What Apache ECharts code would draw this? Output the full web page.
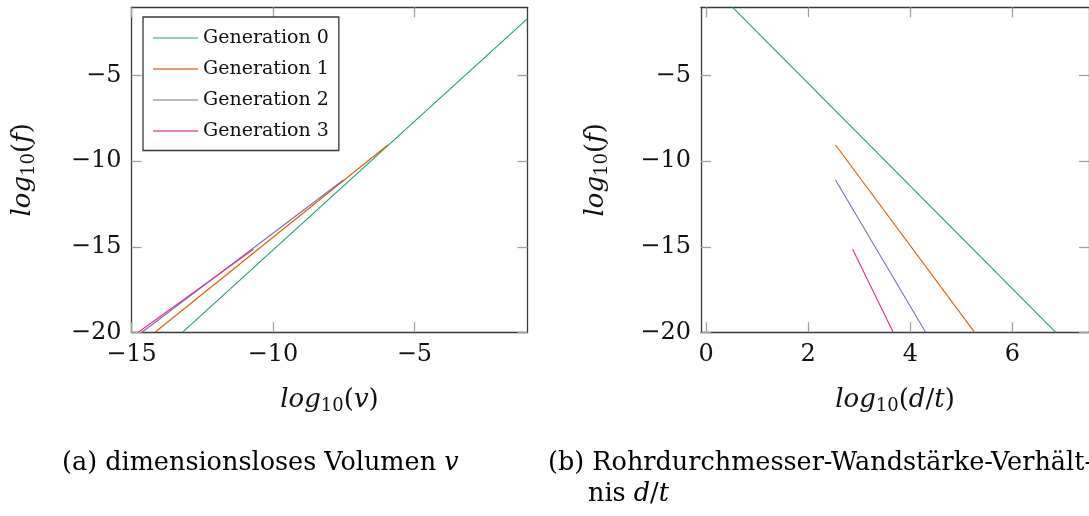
<!DOCTYPE html>
<html>
<head>
<meta charset="utf-8">
<script src="https://cdn.jsdelivr.net/npm/echarts@6/dist/echarts.min.js"></script>
<style>
  html, body { margin: 0; padding: 0; background: #fff; }
  #chart { width: 1089px; height: 516px; }
</style>
</head>
<body>
<div id="chart"></div>
<script>
// Series names and Dark2 colours
const genNames = ['Generation 0', 'Generation 1', 'Generation 2', 'Generation 3'];
const genColors = ['#1b9e77', '#d95f02', '#7570b3', '#e7298a'];

// (a) log10(f) over log10(v): start/end of each generation line
const volX = [[-13.2, -1.0], [-14.17, -5.94], [-14.63, -7.51], [-14.76, -10.69]];
const volF = [[-20, -1.66], [-20, -9.05], [-20, -11.1], [-20, -15.15]];

// (b) log10(f) over log10(d/t)
const dtX = [[0.52, 6.85], [2.535, 5.26], [2.535, 4.30], [2.87, 3.665]];
const dtF = [[-1, -20], [-9.05, -20], [-11.1, -20], [-15.15, -20]];

// tick values
const volTicks = [-15, -10, -5];
const dtTicks = [0, 2, 4, 6];
const fTicks = [-20, -15, -10, -5];

const FONT = 'DejaVu Serif';
const boxColor = '#3a3a3a';
const tickColor = '#a0a0a0';
const minus = v => String(v).replace('-', '\u2212');

// rich styles for the math-like axis names
const nameRich = {
  i: { fontFamily: FONT, fontStyle: 'italic', fontSize: 26, lineHeight: 30, color: '#111' },
  n: { fontFamily: FONT, fontSize: 26, lineHeight: 30, color: '#111' },
  s: { fontFamily: FONT, fontSize: 18, lineHeight: 18, verticalAlign: 'bottom', color: '#111' }
};
// rich styles for the sub-figure captions
const capRich = {
  i: { fontFamily: FONT, fontStyle: 'italic', fontSize: 25.5, lineHeight: 30, color: '#111' },
  n: { fontFamily: FONT, fontSize: 25.5, lineHeight: 30, color: '#111' }
};

function axisBase(min, max, ticks, showLabels, position) {
  return {
    type: 'value', min: min, max: max, position: position,
    splitLine: { show: false },
    axisLine: { show: true, onZero: false, lineStyle: { color: boxColor, width: 1.3 } },
    axisTick: { show: true, inside: true, length: 10, customValues: ticks,
                lineStyle: { color: tickColor, width: 1.3 } },
    axisLabel: { show: showLabels, customValues: ticks, formatter: minus,
                 fontFamily: FONT, fontSize: 24, color: '#111', margin: 10 }
  };
}

const grids = [
  { left: 131.5, top: 7.3, width: 396, height: 325 },
  { left: 701, top: 7.3, width: 396, height: 325 }
];

const xAxes = [
  Object.assign(axisBase(-15, -1, volTicks, true, 'bottom'), {
    gridIndex: 0, name: '{i|log}{s|10}{n|(}{i|v}{n|)}', nameLocation: 'middle', nameGap: 53,
    nameTextStyle: { rich: nameRich }
  }),
  Object.assign(axisBase(-15, -1, volTicks, false, 'top'), { gridIndex: 0 }),
  Object.assign(axisBase(-0.1, 7.5, dtTicks, true, 'bottom'), {
    gridIndex: 1, name: '{i|log}{s|10}{n|(}{i|d}{n|/}{i|t}{n|)}', nameLocation: 'middle', nameGap: 53,
    nameTextStyle: { rich: nameRich }
  }),
  Object.assign(axisBase(-0.1, 7.5, dtTicks, false, 'top'), { gridIndex: 1 })
];

const yAxes = [
  Object.assign(axisBase(-20, -1, fTicks, true, 'left'), {
    gridIndex: 0, name: '{i|log}{s|10}{n|(}{i|f}{n|)}', nameLocation: 'middle', nameGap: 93,
    nameTextStyle: { rich: nameRich }
  }),
  Object.assign(axisBase(-20, -1, fTicks, false, 'right'), { gridIndex: 0 }),
  Object.assign(axisBase(-20, -1, fTicks, true, 'left'), {
    gridIndex: 1, name: '{i|log}{s|10}{n|(}{i|f}{n|)}', nameLocation: 'middle', nameGap: 90,
    nameTextStyle: { rich: nameRich }
  }),
  Object.assign(axisBase(-20, -1, fTicks, false, 'right'), { gridIndex: 1 })
];

const series = [];
genNames.forEach((name, k) => {
  series.push({
    name: name, type: 'line', xAxisIndex: 0, yAxisIndex: 0,
    data: volX[k].map((x, j) => [x, volF[k][j]]),
    symbol: 'none', showSymbol: false, clip: true, silent: true,
    lineStyle: { color: genColors[k], width: 1.1 }, itemStyle: { color: genColors[k] }
  });
  series.push({
    name: name, type: 'line', xAxisIndex: 2, yAxisIndex: 2,
    data: dtX[k].map((x, j) => [x, dtF[k][j]]),
    symbol: 'none', showSymbol: false, clip: true, silent: true,
    lineStyle: { color: genColors[k], width: 1.1 }, itemStyle: { color: genColors[k] }
  });
});

const chart = echarts.init(document.getElementById('chart'), null, { renderer: 'canvas' });
chart.setOption({
  animation: false,
  backgroundColor: '#fff',
  grid: grids,
  xAxis: xAxes,
  yAxis: yAxes,
  legend: {
    orient: 'vertical', left: 143, top: 17,
    padding: [11.5, 10, 10, 9],
    itemWidth: 45, itemHeight: 14, itemGap: 12,
    backgroundColor: '#fff', borderColor: boxColor, borderWidth: 1.3,
    itemStyle: { opacity: 0 },
    textStyle: { fontFamily: FONT, fontSize: 19, color: '#111' },
    data: [
      { name: genNames[0], lineStyle: { width: 1 } },
      { name: genNames[1], lineStyle: { width: 2, opacity: 0.6 } },
      { name: genNames[2], lineStyle: { width: 1 } },
      { name: genNames[3], lineStyle: { width: 2, opacity: 0.6 } }
    ]
  },
  graphic: [
    {
      type: 'text', left: 62, top: 450,
      style: { text: '{n|(a) dimensionsloses Volumen }{i|v}', rich: capRich }
    },
    {
      type: 'text', left: 548, top: 450,
      style: { text: '{n|(b) Rohrdurchmesser-Wandstärke-Verhält-}', rich: capRich }
    },
    {
      type: 'text', left: 588, top: 481,
      style: { text: '{n|nis }{i|d}{n|/}{i|t}', rich: capRich }
    }
  ],
  series: series
});
</script>
</body>
</html>
